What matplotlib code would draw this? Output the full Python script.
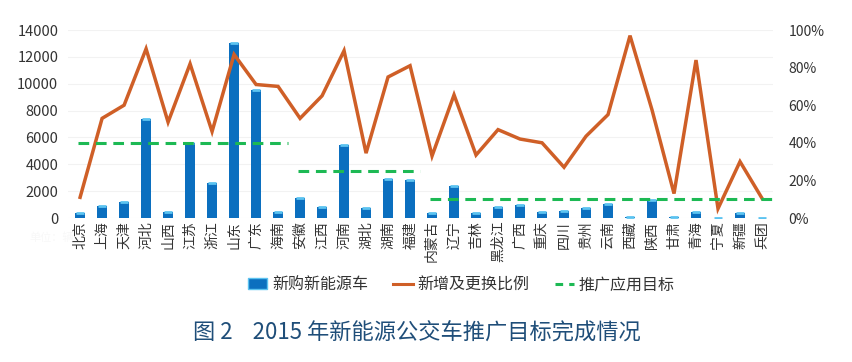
import matplotlib
matplotlib.use("Agg")
import matplotlib.pyplot as plt
from matplotlib.ticker import FuncFormatter
from matplotlib.lines import Line2D
from matplotlib.patches import Patch
import numpy as np

plt.rcParams['font.family'] = ['Noto Sans CJK SC', 'DejaVu Sans']

provinces = ["北京", "上海", "天津", "河北", "山西", "江苏", "浙江", "山东", "广东", "海南",
             "安徽", "江西", "河南", "湖北", "湖南", "福建",
             "内蒙古", "辽宁", "吉林", "黑龙江", "广西", "重庆", "四川", "贵州", "云南", "西藏",
             "陕西", "甘肃", "青海", "宁夏", "新疆", "兵团"]
new_vehicles = [350, 900, 1200, 7400, 450, 5600, 2600, 13000, 9500, 450,
                1500, 820, 5430, 750, 2900, 2850,
                370, 2380, 370, 800, 970, 450, 520, 750, 1040, 80,
                1340, 80, 450, 20, 370, 10]
ratio = [0.11, 0.53, 0.60, 0.90, 0.51, 0.82, 0.46, 0.87, 0.71, 0.70,
         0.53, 0.65, 0.89, 0.345, 0.75, 0.81,
         0.33, 0.655, 0.335, 0.47, 0.42, 0.40, 0.27, 0.435, 0.55, 0.97,
         0.575, 0.13, 0.84, 0.05, 0.30, 0.105]
# target groups: (first index, last index, target ratio)
target_groups = [(0, 9, 0.40), (10, 15, 0.25), (16, 31, 0.10)]

series_names = ["新购新能源车", "新增及更换比例", "推广应用目标"]
caption = "图 2    2015 年新能源公交车推广目标完成情况"

bar_color = "#0B6FBF"
cap_color = "#5CC3F0"
line_color = "#CF5F27"
target_color = "#1DB954"
text_color = "#333333"

fig = plt.figure(figsize=(8.53, 3.62), dpi=100)
ax = fig.add_axes([68/853, 144/362, 705/853, 188/362])
x = np.arange(len(provinces))

ax.bar(x, new_vehicles, width=0.42, color=bar_color, zorder=2)
ax.scatter(x, new_vehicles, marker="_", s=35, color=cap_color, linewidths=2, zorder=3)
ax.set_ylim(0, 14000)
ax.set_yticks(np.arange(0, 14001, 2000))
ax.set_xlim(-0.55, 31.5)
ax.set_xticks(x)
ax.set_xticklabels(provinces, rotation=90, fontsize=10, color=text_color)
ax.tick_params(axis="y", length=0, labelsize=10.5, colors=text_color, pad=7)
ax.tick_params(axis="x", length=0, pad=2, colors=text_color)
ax.grid(axis="y", color="#f2f2f2", linewidth=0.8, zorder=0)
for s in ax.spines.values():
    s.set_visible(False)

ax2 = ax.twinx()
ax2.plot(x, ratio, color=line_color, linewidth=2.5, zorder=4, solid_joinstyle="miter")
for a, b, t in target_groups:
    ax2.plot([a - 0.1, b + 0.45], [t, t], color=target_color, linewidth=2.2,
             linestyle=(0, (3.5, 2.2)), zorder=5)
ax2.set_ylim(0, 1)
ax2.set_yticks(np.arange(0, 1.01, 0.2))
ax2.yaxis.set_major_formatter(FuncFormatter(lambda v, p: f"{v*100:.0f}%"))
ax2.tick_params(axis="y", length=0, labelsize=10, colors=text_color, pad=11)
for s in ax2.spines.values():
    s.set_visible(False)

handles = [Patch(facecolor=bar_color, edgecolor=cap_color),
           Line2D([], [], color=line_color, linewidth=2.2),
           Line2D([], [], color=target_color, linewidth=2.2, linestyle=(0, (2.5, 2)))]
fig.legend(handles, series_names, loc="center", bbox_to_anchor=(0.541, 0.213), ncol=3,
           frameon=False, fontsize=11.5, columnspacing=1.6, handlelength=1.2,
           handletextpad=0.3, labelcolor=text_color)

fig.text(0.035, 0.335, "单位：辆", fontsize=8, color="#f8f8f8")
fig.text(0.489, 0.08, caption, fontsize=16, color="#1F4E79", ha="center", va="center")

fig.savefig("out.png", dpi=100, facecolor="white")
